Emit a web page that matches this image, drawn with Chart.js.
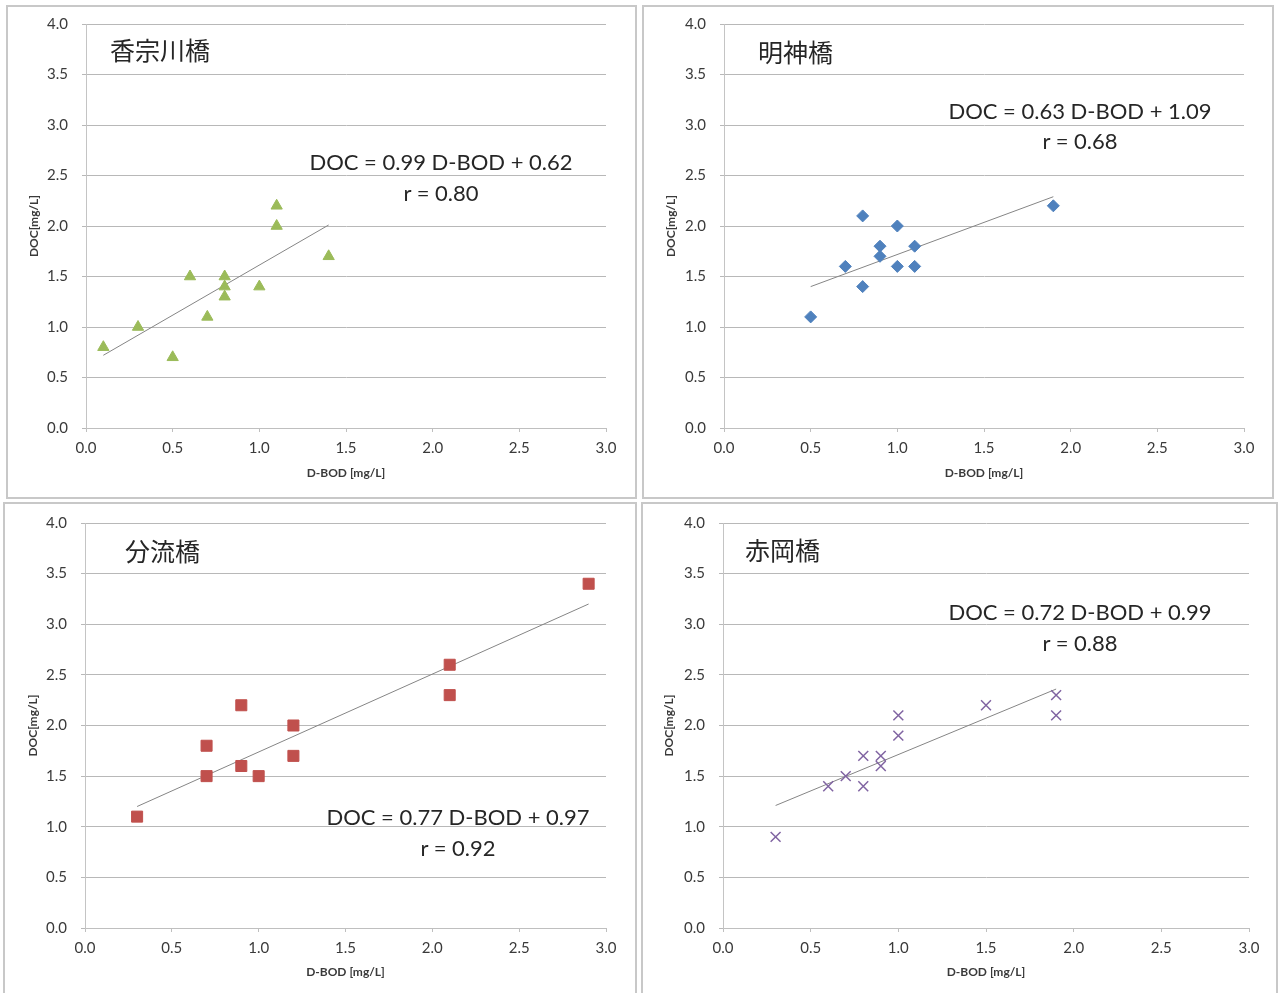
<!DOCTYPE html>
<html>
<head>
<meta charset="utf-8">
<script src="https://cdn.jsdelivr.net/npm/chart.js@4.4.0/dist/chart.umd.min.js"></script>
<style>
  body { margin: 0; background: #fff; width: 1280px; height: 993px; overflow: hidden; position: relative; }
  .panel { position: absolute; }
  .panel canvas { position: absolute; left: 0; top: 0; }
  .frame { position: absolute; left: 0; top: 0; right: 0; bottom: 0; border: 2px solid #c8c8c8; box-sizing: border-box; }
  .site { position: absolute; font-family: "Noto Sans CJK JP", sans-serif; font-size: 25px; color: #262626; line-height: 1; white-space: nowrap; transform: translateY(-50%); }
  .eq { position: absolute; font-family: Lato, sans-serif; font-size: 22px; color: #262626; line-height: 1; white-space: nowrap; transform: translate(-50%, -50%); }
</style>
</head>
<body>
<script>
// station names
const sites = ['香宗川橋', '明神橋', '分流橋', '赤岡橋'];

// axis ticks
const xTickValues = [0, 0.5, 1.0, 1.5, 2.0, 2.5, 3.0];
const yTickValues = [0, 0.5, 1.0, 1.5, 2.0, 2.5, 3.0, 3.5, 4.0];

// 香宗川橋
const kosoBod = [0.1, 0.3, 0.5, 0.6, 0.7, 0.8, 0.8, 0.8, 1.0, 1.1, 1.1, 1.4];
const kosoDoc = [0.8, 1.0, 0.7, 1.5, 1.1, 1.5, 1.4, 1.3, 1.4, 2.2, 2.0, 1.7];
const kosoTrendBod = [0.1, 1.4];
const kosoTrendDoc = [0.72, 2.01];

// 明神橋
const myojinBod = [0.5, 0.7, 0.8, 0.8, 0.9, 0.9, 1.0, 1.0, 1.1, 1.1, 1.9];
const myojinDoc = [1.1, 1.6, 2.1, 1.4, 1.8, 1.7, 2.0, 1.6, 1.8, 1.6, 2.2];
const myojinTrendBod = [0.5, 1.9];
const myojinTrendDoc = [1.40, 2.29];

// 分流橋
const bunryuBod = [0.3, 0.7, 0.7, 0.9, 0.9, 1.0, 1.2, 1.2, 2.1, 2.1, 2.9];
const bunryuDoc = [1.1, 1.8, 1.5, 2.2, 1.6, 1.5, 2.0, 1.7, 2.6, 2.3, 3.4];
const bunryuTrendBod = [0.3, 2.9];
const bunryuTrendDoc = [1.20, 3.20];

// 赤岡橋
const akaokaBod = [0.3, 0.6, 0.7, 0.8, 0.8, 0.9, 0.9, 1.0, 1.0, 1.5, 1.9, 1.9];
const akaokaDoc = [0.9, 1.4, 1.5, 1.7, 1.4, 1.7, 1.6, 2.1, 1.9, 2.2, 2.3, 2.1];
const akaokaTrendBod = [0.3, 1.9];
const akaokaTrendDoc = [1.21, 2.36];

const equations = ['DOC = 0.99 D-BOD + 0.62', 'DOC = 0.63 D-BOD + 1.09', 'DOC = 0.77 D-BOD + 0.97', 'DOC = 0.72 D-BOD + 0.99'];
const rValues = ['r = 0.80', 'r = 0.68', 'r = 0.92', 'r = 0.88'];

const zip = (xs, ys) => xs.map((x, i) => ({ x: x, y: ys[i] }));

// panel boxes and inner placement
const panels = [
  { left: 6, top: 5, w: 631, h: 494, yW: 80, padTop: 19, padRight: 31, xH: 71, yTitle: 21, xTitle: 19,
    bod: kosoBod, doc: kosoDoc, tBod: kosoTrendBod, tDoc: kosoTrendDoc,
    style: 'triangle', radius: 6.5, color: '#9bbb59', bw: 1,
    siteX: 104, siteY: 44, eqX: 435, eqY: 157, rY: 188 },
  { left: 642, top: 5, w: 632, h: 494, yW: 82, padTop: 19, padRight: 30, xH: 71, yTitle: 22, xTitle: 19,
    bod: myojinBod, doc: myojinDoc, tBod: myojinTrendBod, tDoc: myojinTrendDoc,
    style: 'rectRot', radius: 6, color: '#4f81bd', bw: 1,
    siteX: 116, siteY: 46, eqX: 438, eqY: 106, rY: 136 },
  { left: 3, top: 502, w: 634, h: 493, yW: 82, padTop: 21, padRight: 31, xH: 67, yTitle: 23, xTitle: 16,
    bod: bunryuBod, doc: bunryuDoc, tBod: bunryuTrendBod, tDoc: bunryuTrendDoc,
    style: 'rect', radius: 7.8, color: '#c0504d', bw: 1,
    siteX: 122, siteY: 48, eqX: 455, eqY: 315, rY: 346 },
  { left: 641, top: 502, w: 637, h: 493, yW: 82, padTop: 21, padRight: 29, xH: 67, yTitle: 21, xTitle: 16,
    bod: akaokaBod, doc: akaokaDoc, tBod: akaokaTrendBod, tDoc: akaokaTrendDoc,
    style: 'crossRot', radius: 7, color: '#8064a2', bw: 1.5,
    siteX: 104, siteY: 47, eqX: 439, eqY: 110, rY: 141 }
];

const tickFont = { family: 'Lato, sans-serif', size: 15 };
const titleFont = { family: 'Lato, sans-serif', size: 12, weight: 'bold' };
const textColor = '#3a3a3a';

panels.forEach((p, i) => {
  const box = document.createElement('div');
  box.className = 'panel';
  box.style.left = p.left + 'px';
  box.style.top = p.top + 'px';
  box.style.width = p.w + 'px';
  box.style.height = p.h + 'px';

  const canvas = document.createElement('canvas');
  canvas.width = p.w;
  canvas.height = p.h;
  box.appendChild(canvas);

  const frame = document.createElement('div');
  frame.className = 'frame';
  box.appendChild(frame);

  const site = document.createElement('div');
  site.className = 'site';
  site.textContent = sites[i];
  site.style.left = p.siteX + 'px';
  site.style.top = p.siteY + 'px';
  box.appendChild(site);

  const eq = document.createElement('div');
  eq.className = 'eq';
  eq.textContent = equations[i];
  eq.style.left = p.eqX + 'px';
  eq.style.top = p.eqY + 'px';
  box.appendChild(eq);

  const r = document.createElement('div');
  r.className = 'eq';
  r.textContent = rValues[i];
  r.style.left = p.eqX + 'px';
  r.style.top = p.rY + 'px';
  box.appendChild(r);

  document.body.appendChild(box);

  new Chart(canvas.getContext('2d'), {
    type: 'scatter',
    data: {
      datasets: [
        {
          data: zip(p.bod, p.doc),
          pointStyle: p.style,
          pointRadius: p.radius,
          pointHoverRadius: p.radius,
          backgroundColor: p.color,
          borderColor: p.color,
          borderWidth: p.bw
        },
        {
          data: zip(p.tBod, p.tDoc),
          showLine: true,
          borderColor: '#858585',
          borderWidth: 1,
          pointRadius: 0,
          pointHoverRadius: 0
        }
      ]
    },
    options: {
      responsive: false,
      animation: false,
      events: [],
      layout: { autoPadding: false, padding: { left: 0, top: p.padTop, right: p.padRight, bottom: 0 } },
      plugins: { legend: { display: false }, tooltip: { enabled: false } },
      scales: {
        x: {
          type: 'linear',
          min: 0,
          max: 3,
          afterBuildTicks: s => { s.ticks = xTickValues.map(v => ({ value: v })); },
          afterFit: s => { s.height = p.xH; },
          ticks: { callback: v => v.toFixed(1), font: tickFont, color: textColor, padding: 7, maxRotation: 0 },
          grid: { drawOnChartArea: false, drawTicks: true, tickLength: 4, color: '#bfbfbf' },
          border: { display: true, color: '#bfbfbf' },
          title: { display: true, text: 'D-BOD [mg/L]', font: titleFont, color: textColor, padding: { top: 0, bottom: p.xTitle } }
        },
        y: {
          type: 'linear',
          min: 0,
          max: 4,
          afterBuildTicks: s => { s.ticks = yTickValues.map(v => ({ value: v })); },
          afterFit: s => { s.width = p.yW; s.paddingTop = 8; s.paddingBottom = 8; },
          ticks: { callback: v => v.toFixed(1), font: tickFont, color: textColor, padding: 14 },
          grid: { drawTicks: true, tickLength: 4, color: '#b8b8b8' },
          border: { display: true, color: '#c4c4c4' },
          title: { display: true, text: 'DOC[mg/L]', font: titleFont, color: textColor, padding: { top: p.yTitle, bottom: 0 } }
        }
      }
    }
  });
});
</script>
</body>
</html>
